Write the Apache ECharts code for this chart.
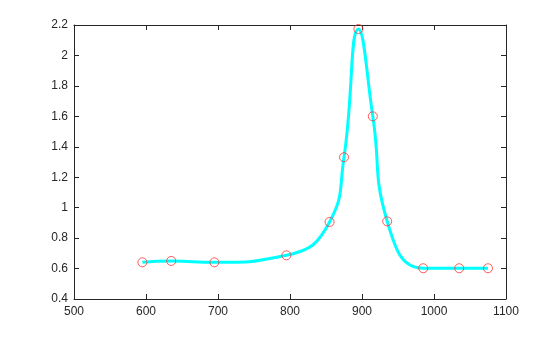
<!DOCTYPE html>
<html><head><meta charset="utf-8">
<script src="https://cdn.jsdelivr.net/npm/echarts@6/dist/echarts.min.js"></script>
<style>html,body{margin:0;padding:0;background:#fff}#c{width:560px;height:337px}</style>
</head><body><div id="c"></div>
<script>
const xValues = [595, 635, 695, 795, 855, 875, 895, 915, 935, 985, 1035, 1075];
const yValues = [0.641, 0.650, 0.641, 0.687, 0.906, 1.331, 2.174, 1.600, 0.910, 0.602, 0.602, 0.602];
const xTicks = [500, 600, 700, 800, 900, 1000, 1100];
const yTicks = [0.4, 0.6, 0.8, 1, 1.2, 1.4, 1.6, 1.8, 2, 2.2];

const pts = xValues.map((x, i) => [x, yValues[i]]);
const chart = echarts.init(document.getElementById('c'), null, {renderer: 'canvas'});
const font = {fontFamily: 'Liberation Sans, Arial, sans-serif', fontSize: 12, color: '#262626'};
const axLine = {show: true, lineStyle: {color: '#262626', width: 1}};
const tick = {show: true, inside: true, length: 5, lineStyle: {color: '#262626'}};
chart.setOption({
  animation: false,
  grid: {left: 74, top: 25, width: 432, height: 274, containLabel: false},
  xAxis: [
    {type: 'value', min: xTicks[0], max: xTicks[xTicks.length-1], interval: 100, position: 'bottom',
     axisLine: axLine, axisTick: tick, splitLine: {show: false},
     axisLabel: Object.assign({margin: 7, formatter: v => String(v)}, font)},
    {type: 'value', min: xTicks[0], max: xTicks[xTicks.length-1], interval: 100, position: 'top',
     axisLine: axLine, axisTick: tick, splitLine: {show: false}, axisLabel: {show: false}}
  ],
  yAxis: [
    {type: 'value', min: yTicks[0], max: yTicks[yTicks.length-1], interval: 0.2, position: 'left',
     axisLine: axLine, axisTick: tick, splitLine: {show: false},
     axisLabel: Object.assign({margin: 6, formatter: v => String(+v.toFixed(1))}, font)},
    {type: 'value', min: yTicks[0], max: yTicks[yTicks.length-1], interval: 0.2, position: 'right',
     axisLine: axLine, axisTick: tick, splitLine: {show: false}, axisLabel: {show: false}}
  ],
  series: [
    {type: 'line', data: pts, smooth: 0.5, showSymbol: false,
     lineStyle: {color: '#00FFFF', width: 3}, z: 2},
    {type: 'scatter', data: pts, symbol: 'circle', symbolSize: 9,
     itemStyle: {color: 'rgba(0,0,0,0)', borderColor: '#FF3333', borderWidth: 1}, z: 3}
  ]
});
</script></body></html>
